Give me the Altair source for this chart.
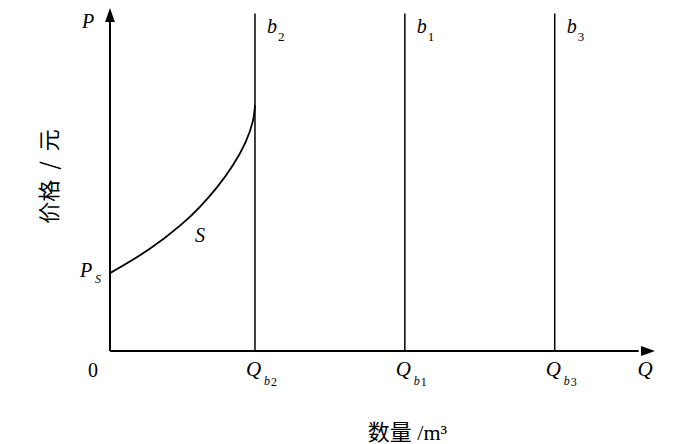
import altair as alt
import pandas as pd

# ---------------- data ----------------
AXIS_MAX = 100
DEMAND_SUB = ["2", "1", "3"]            # subscripts: b2, b1, b3
DEMAND_Q = [26.6, 54.1, 81.6]           # quantity of each vertical line
LINE_TOP = 98.4                         # top of the vertical lines
SUPPLY_Q = [0, 7.3, 13.4, 16.5, 19.6, 22.6, 25.1, 26.4, 26.6]
SUPPLY_P = [22.7, 29.4, 37.1, 41.9, 47.5, 53.9, 61.2, 67.3, 71.7]
P_S = 22.7
S_LABEL_Q, S_LABEL_P = 16.5, 31.8
X_TITLE = "数量 /m³"
Y_TITLE = "价格\u00a0 /\u00a0 元"

SERIF = "Liberation Serif"
CJK = "Noto Sans CJK SC"

# ---------------- scales / axes ----------------
xscale = alt.Scale(domain=[0, AXIS_MAX], nice=False, zero=True)
yscale = alt.Scale(domain=[0, AXIS_MAX], nice=False, zero=True)
xaxis = alt.Axis(title=X_TITLE, domain=False, ticks=False, labels=False, grid=False,
                 titleFont=f"{SERIF}, {CJK}", titleFontSize=22, titleFontWeight="normal",
                 titleColor="black", titleX=297, titleY=88, titleBaseline="alphabetic",
                 titleAlign="center")
yaxis = alt.Axis(title=Y_TITLE, domain=False, ticks=False, labels=False, grid=False,
                 titleFont=CJK, titleFontSize=22, titleFontWeight="normal",
                 titleColor="black", titleAngle=270, titleX=-61, titleY=168,
                 titleBaseline="middle", titleAlign="center")


def X(f):
    return alt.X(f"{f}:Q", scale=xscale, axis=xaxis)


def Y(f):
    return alt.Y(f"{f}:Q", scale=yscale, axis=yaxis)


# ---------------- tables ----------------
axes_df = pd.DataFrame({"x": [0, 0], "y": [0, 0], "x2": [AXIS_MAX * 0.97, 0],
                        "y2": [0, AXIS_MAX * 0.97]})
demand_df = pd.DataFrame({"q": DEMAND_Q, "zero": [0] * 3, "top": [LINE_TOP] * 3,
                          "sub": DEMAND_SUB})
supply_df = pd.DataFrame({"q": SUPPLY_Q, "p": SUPPLY_P})
xtip_df = pd.DataFrame({"x": [AXIS_MAX], "y": [0]})
ytip_df = pd.DataFrame({"x": [0], "y": [AXIS_MAX]})

base_axes = alt.Chart(axes_df).mark_rule(color="black", strokeWidth=2).encode(
    x=X("x"), y=Y("y"), x2="x2", y2="y2")

arrow_x = alt.Chart(xtip_df).mark_point(
    shape="M0,0L-2,-0.7L-2,0.7Z", filled=True, size=196, color="black", opacity=1,
    strokeWidth=0).encode(x=X("x"), y=Y("y"))
arrow_y = alt.Chart(ytip_df).mark_point(
    shape="M0,0L-0.7,2L0.7,2Z", filled=True, size=196, color="black", opacity=1,
    strokeWidth=0).encode(x=X("x"), y=Y("y"))

vlines = alt.Chart(demand_df).mark_rule(color="black", strokeWidth=1.5).encode(
    x=X("q"), y=Y("zero"), y2="top")

supply = alt.Chart(supply_df).mark_line(
    color="black", strokeWidth=1.8, interpolate="basis").encode(x=X("q"), y=Y("p"))


def text_layer(df, xf, yf, textf, size, dx=0, dy=0, align="left", italic=True, font=SERIF):
    kw = dict(font=font, fontSize=size, dx=dx, dy=dy, align=align,
              baseline="alphabetic", color="black")
    if italic:
        kw["fontStyle"] = "italic"
    return alt.Chart(df).mark_text(**kw).encode(x=X(xf), y=Y(yf), text=f"{textf}:N")


lbl_df = pd.DataFrame({"x": [0, AXIS_MAX, S_LABEL_Q, 0, 0],
                       "y": [AXIS_MAX, 0, S_LABEL_P, P_S, 0],
                       "t": ["P", "Q", "S", "P", "0"]})

layers = [
    base_axes, arrow_x, arrow_y, vlines, supply,
    text_layer(lbl_df.iloc[[0]], "x", "y", "t", 20, dx=-28, dy=20),
    text_layer(lbl_df.iloc[[1]], "x", "y", "t", 21, dx=-10, dy=25, align="center"),
    text_layer(lbl_df.iloc[[2]], "x", "y", "t", 20, align="center"),
    text_layer(lbl_df.iloc[[3]], "x", "y", "t", 20, dx=-30, dy=4),
    text_layer(lbl_df.iloc[[3]].assign(t="S"), "x", "y", "t", 12, dx=-15, dy=10),
    text_layer(lbl_df.iloc[[4]], "x", "y", "t", 20, dx=-17, dy=26, align="center",
               italic=False),
    # Q_b labels under the axis
    text_layer(demand_df.assign(t="Q"), "q", "zero", "t", 21, dx=-9, dy=25),
    text_layer(demand_df.assign(t="b"), "q", "zero", "t", 12, dx=9, dy=34),
    text_layer(demand_df, "q", "zero", "sub", 12, dx=16, dy=35, italic=False),
    # b labels at top of lines
    text_layer(demand_df.assign(t="b"), "q", "top", "t", 20, dx=12, dy=20),
    text_layer(demand_df, "q", "top", "sub", 13, dx=23, dy=28, italic=False),
]

chart = alt.layer(*layers).properties(
    width=545, height=343,
    autosize=alt.AutoSizeParams(type="none"),
    padding={"left": 102, "top": 0, "right": 37, "bottom": 93},
    background="white",
).configure_view(stroke=None)

chart.save("out.html", embed_options={"renderer": "svg", "actions": False})
